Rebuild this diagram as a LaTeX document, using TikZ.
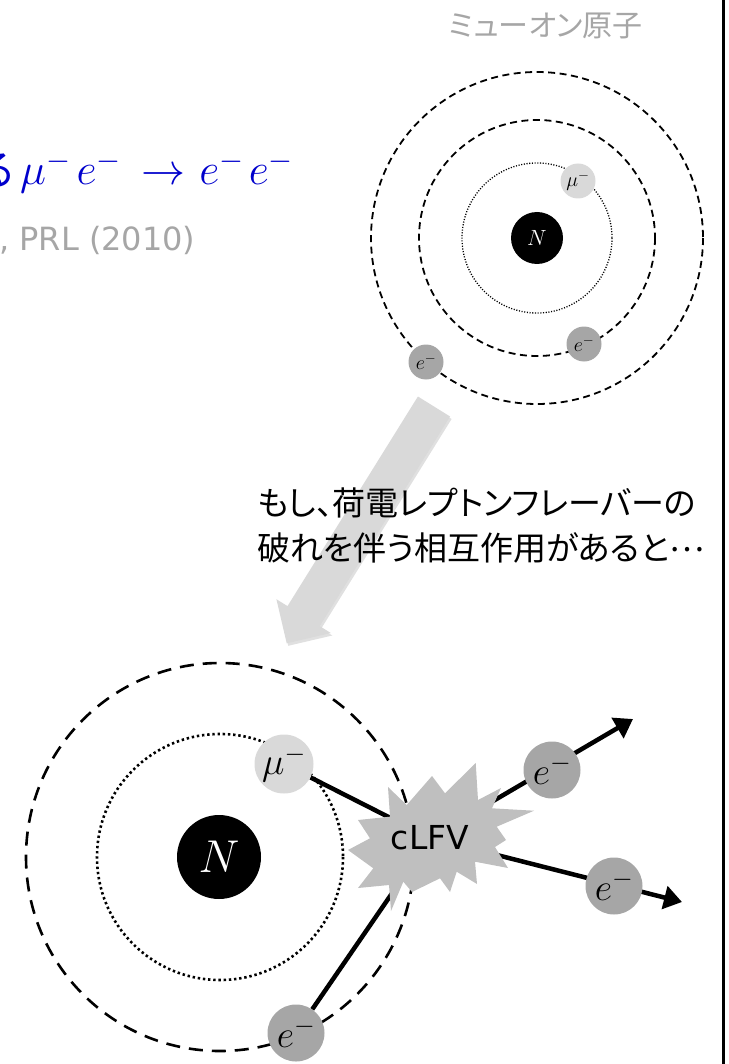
\RequirePackage{fix-cm}
\documentclass[tikz,border=0pt]{standalone}
\usepackage{fontspec}
\newfontfamily\jpfont[RawFeature=+palt]{Noto Sans CJK JP}
\newfontfamily\sansfont{DejaVu Sans}
\usetikzlibrary{arrows.meta}

\definecolor{muoncol}{HTML}{D9D9D9}
\definecolor{eleccol}{HTML}{A6A6A6}
\definecolor{burstcol}{HTML}{BFBFBF}
\definecolor{notegray}{HTML}{A6A6A6}
\definecolor{arrowgray}{HTML}{D9D9D9}
\definecolor{eqblue}{RGB}{0,0,204}

\pgfdeclarelayer{orbits}
\pgfdeclarelayer{tracks}
\pgfdeclarelayer{burst}
\pgfsetlayers{orbits,tracks,burst,main}

\tikzset{
  smallorbit/.style={line width=1.8pt, dash pattern=on 7pt off 4.5pt},
  smallinner/.style={line width=1.3pt, dash pattern=on 1.1pt off 1.6pt},
  bigorbit/.style={line width=2.6pt, dash pattern=on 14pt off 9pt},
  biginner/.style={line width=2.6pt, dash pattern=on 2.4pt off 2.8pt},
  particle/.style={circle, inner sep=0pt},
  nucleus/.style={particle, fill=black, text=white},
  muon/.style={particle, fill=muoncol},
  electron/.style={particle, fill=eleccol},
  track/.style={line width=4.5pt},
  outgoing/.style={track, -{Triangle[length=18pt,width=23pt]}},
  smallfont/.style={font=\fontsize{20}{24}\selectfont},
  bigfont/.style={font=\fontsize{38}{44}\selectfont},
}

\begin{document}
\begin{tikzpicture}[x=1pt,y=-1pt]
\useasboundingbox (0,0) rectangle (728,1064);
\clip (0,0) rectangle (728,1064);

% equation and reference at the left edge
\node[anchor=base east, inner sep=0pt, text=eqblue, font=\jpfont\fontsize{42}{50}\selectfont] (eqjp) at (14,186) {る};
\node[anchor=base west, inner sep=0pt, text=eqblue, font=\fontsize{44}{52}\selectfont] (eq) at (20,185)
  {$\mu^{-}\kern6pt e^{-}\kern8pt\rightarrow\kern2pt e^{-}\kern5pt e^{-}$};
\node[anchor=base west, inner sep=0pt, text=notegray, font=\sansfont\fontsize{32}{38}\selectfont] (cite) at (-1,251) {, PRL (2010)};

% title of the muonic atom
\node[anchor=base, inner sep=0pt, text=notegray, font=\jpfont\fontsize{30}{36}\selectfont] (title) at (546,37) {ミューオン原子};

% muonic atom
\coordinate (A) at (537,238);
\begin{pgfonlayer}{orbits}
  \draw[smallorbit] (A) circle[radius=166];
  \draw[smallorbit] (A) circle[radius=118];
  \draw[smallinner] (A) circle[radius=75];
\end{pgfonlayer}
\node[nucleus, minimum size=52pt, font=\fontsize{22}{26}\selectfont] (nucA) at (A) {$N$};
\node[muon, minimum size=35pt, smallfont] (muA) at (578,181) {$\mu^-$};
\node[electron, minimum size=35pt, smallfont] (eA1) at (584,344) {$e^-$};
\node[electron, minimum size=35pt, smallfont] (eA2) at (426,362) {$e^-$};

% transition arrow with a soft shadow
\fill[black, opacity=0.12, shift={(1.5,2.5)}] (450.1,416.5) -- (319.7,626.1) -- (330.8,633.0) -- (286.7,643.3) -- (276.4,599.2) -- (287.5,606.1) -- (417.9,396.5) -- cycle;
\fill[arrowgray] (450.1,416.5) -- (319.7,626.1) -- (330.8,633.0) -- (286.7,643.3) -- (276.4,599.2) -- (287.5,606.1) -- (417.9,396.5) -- cycle;

% explanation
\node[anchor=base west, inner sep=0pt, font=\jpfont\fontsize{33}{45}\selectfont] (note1) at (257,515) {もし、荷電レプトンフレーバーの};
\node[anchor=base west, inner sep=0pt, font=\jpfont\fontsize{33}{45}\selectfont] (note2) at (257,560) {破れを伴う相互作用があると\raisebox{9pt}{…}};

% conversion inside the atom
\coordinate (B) at (220,857);
\begin{pgfonlayer}{orbits}
  \draw[bigorbit] (B) circle[radius=194];
  \draw[biginner] (B) circle[radius=123];
\end{pgfonlayer}
\node[nucleus, minimum size=84pt, font=\fontsize{46}{52}\selectfont] (nucB) at (219,857) {$N$};
\node[muon, minimum size=59pt, bigfont] (muB) at (284,764) {$\mu^-$};
\node[electron, minimum size=57pt, bigfont] (eB1) at (552,770) {$e^-$};
\node[electron, minimum size=57pt, bigfont] (eB2) at (614,886) {$e^-$};
\node[electron, minimum size=57pt, bigfont] (eB3) at (296,1033) {$e^-$};
\node[inner sep=2pt, font=\sansfont\fontsize{33}{40}\selectfont] (clfv) at (430,838) {cLFV};
\coordinate (tip1) at (633,719);
\coordinate (tip2) at (682,902);

\begin{pgfonlayer}{burst}
  \fill[burstcol] (475.7,763) -- (478,800) -- (501,788) -- (492,808.3) -- (534,810.7)
    -- (496.7,826.7) -- (506,840) -- (495,847) -- (508,868) -- (475,861.7)
    -- (477,884) -- (456.7,871.7) -- (450,892) -- (440,878.3) -- (412,892)
    -- (403.3,881.7) -- (391,911) -- (389,885) -- (358,888) -- (373.3,868.3)
    -- (348,850) -- (370,838.3) -- (358,820) -- (390,816.7) -- (388,787)
    -- (406.7,805) -- (432,776) -- (445,793.3) -- cycle;
\end{pgfonlayer}

\begin{pgfonlayer}{tracks}
  \draw[track] (muB) -- (clfv.center);
  \draw[track] (clfv.center) -- (eB3);
  \draw[outgoing] (clfv.center) -- (tip1);
  \draw[outgoing] (clfv.center) -- (tip2);
\end{pgfonlayer}

% frame line on the right
\draw[line width=3pt] (723.5,0) -- (723.5,1064);
\end{tikzpicture}
\end{document}
